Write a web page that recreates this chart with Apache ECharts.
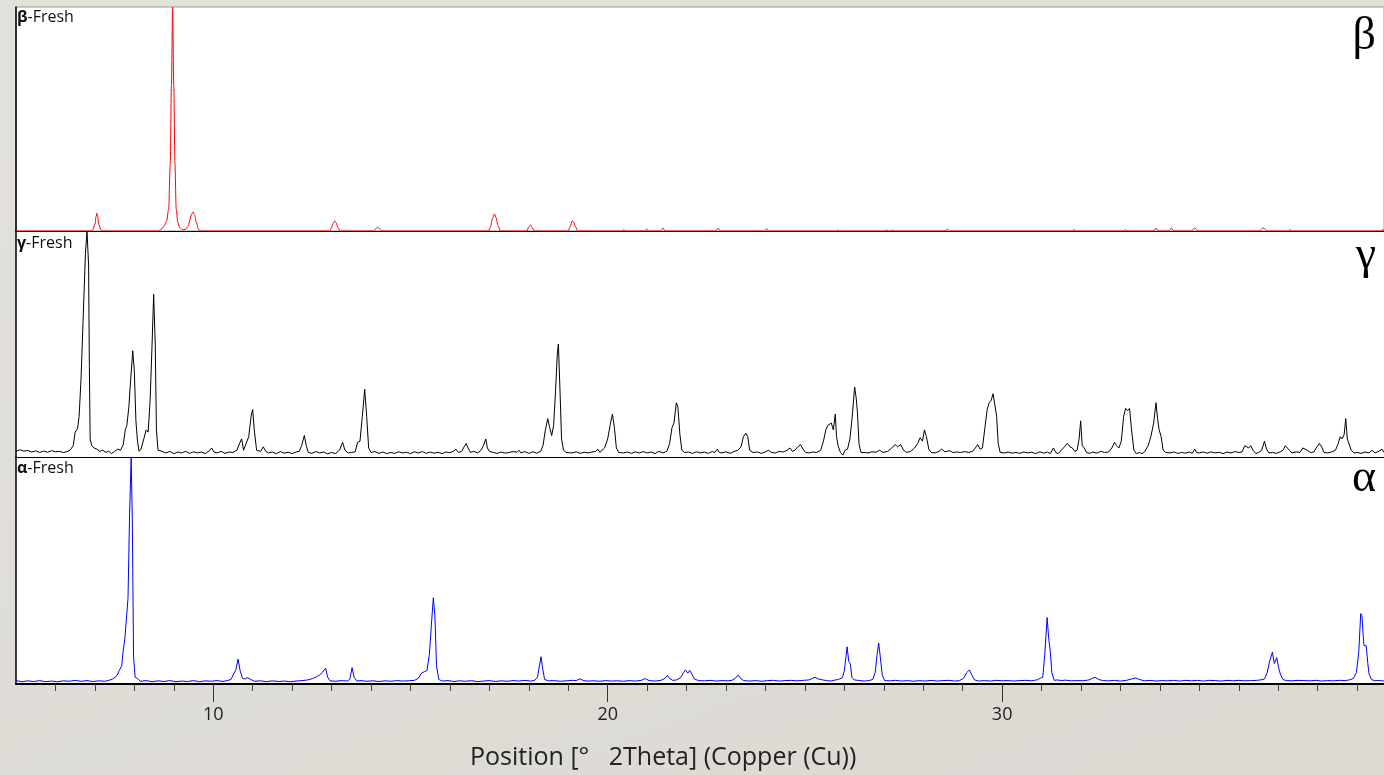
<!DOCTYPE html>
<html>
<head>
<meta charset="utf-8">
<script src="https://cdn.jsdelivr.net/npm/echarts@6/dist/echarts.min.js"></script>
<style>
html,body{margin:0;padding:0;width:1384px;height:775px;overflow:hidden;background:linear-gradient(160deg,#e3e1dc 0%,#dcd9d3 100%);}
#c{width:1384px;height:775px;}
</style>
</head>
<body>
<div id="c"></div>
<script>
// ---- axis / labels ----
const xMin = 5;
const xMax = 39.68;
const majorTicks = [10, 20, 30];
const minorTicks = [6,7,8,9,11,12,13,14,15,16,17,18,19,21,22,23,24,25,26,27,28,29,31,32,33,34,35,36,37,38,39];
const panelNames = ['β', 'γ', 'α'];
const axisTitle = 'Position [°   2Theta] (Copper (Cu))';

// ---- β-Fresh (red) : [2θ, relative intensity] ----
const betaData = [
[5.0,0],[6.9,0],[6.95,0.6],[7.0,3],[7.03,6.5],[7.05,8],[7.07,6.5],[7.1,3],[7.15,0.6],[7.2,0],
[8.6,0],[8.68,0.8],[8.75,2],[8.82,4.5],[8.87,10],[8.91,30],[8.94,65],[8.97,100],[9.0,65],[9.03,30],[9.06,10],[9.1,4],[9.15,1.5],[9.22,0.5],[9.3,0.8],[9.36,2],[9.41,5],[9.45,7.5],[9.49,8.5],[9.53,7],[9.57,4],[9.62,1],[9.67,0],
[12.95,0],[13.0,1.5],[13.04,3.5],[13.08,4.5],[13.12,3.5],[13.16,1.5],[13.22,0],
[14.08,0],[14.13,1.2],[14.17,1.8],[14.21,1.2],[14.26,0],
[16.98,0],[17.03,2],[17.08,5.5],[17.13,7.6],[17.17,6],[17.22,2.5],[17.28,0],
[17.95,0],[18.0,1.8],[18.04,2.7],[18.08,1.8],[18.13,0],
[19.0,0],[19.05,2],[19.1,4.5],[19.14,4],[19.18,2],[19.24,0],
[20.37,0],[20.41,0.7],[20.45,0],
[20.95,0],[20.99,0.9],[21.03,0],
[21.34,0],[21.4,1.3],[21.46,0],
[22.74,0],[22.8,1.3],[22.86,0],
[23.98,0],[24.03,1],[24.08,0],
[25.8,0],[25.84,0.5],[25.88,0],
[27.04,0],[27.08,0.5],[27.12,0],[27.18,0],[27.22,0.5],[27.26,0],
[28.55,0],[28.61,0.7],[28.67,0],
[31.77,0],[31.82,0.7],[31.87,0],
[33.08,0],[33.13,0.7],[33.18,0],
[33.84,0],[33.9,1.3],[33.96,0],
[34.23,0],[34.29,1.3],[34.35,0],
[34.8,0],[34.88,1.4],[34.96,0],
[36.52,0],[36.62,1.4],[36.72,0],
[37.25,0],[37.3,0.7],[37.35,0],
[39.6,0],[39.65,0.5],[39.68,0.5]
];

// ---- γ-Fresh (black) ----
const gammaData = [
[5.0,2.5],[5.1,3.2],[5.2,2.6],[5.3,2.9],[5.4,2.2],[5.5,2.7],[5.6,2.0],[5.7,2.6],[5.8,2.1],[5.9,2.8],[6.0,2.3],[6.1,2.5],[6.2,2.0],[6.3,2.4],
[6.37,3],[6.45,5],[6.5,11],[6.56,12.5],[6.6,18],[6.65,35],[6.7,60],[6.76,90],[6.8,100],[6.84,85],[6.86,40],[6.88,8],[6.92,5],[6.98,4],[7.05,3.5],[7.12,2.5],[7.2,3],[7.28,2],[7.35,2.6],[7.42,1.5],[7.5,2.5],[7.58,3.5],[7.65,3],
[7.72,5.5],[7.77,12],[7.81,14],[7.86,22],[7.91,35],[7.96,47],[8.0,38],[8.04,16],[8.08,7],[8.12,2.5],[8.17,3.5],[8.24,8],[8.3,12],[8.35,11],[8.4,25],[8.45,50],[8.49,72],[8.53,50],[8.56,12],[8.6,3],
[8.7,2.5],[8.8,1.8],[8.9,2.5],[9.0,1.5],[9.1,2.2],[9.2,1.8],[9.3,2.5],[9.4,1.6],[9.5,2.3],[9.6,1.8],[9.7,2.2],[9.8,1.5],[9.9,2.8],[9.96,4],[10.02,2.2],[10.1,1.8],[10.2,2.5],[10.3,1.6],[10.4,2.2],[10.5,2],[10.6,3],
[10.68,6.5],[10.72,8],[10.77,3],[10.82,3],[10.9,9],[10.96,18],[11.0,21],[11.04,12],[11.1,3],[11.2,2.5],[11.27,4.5],[11.33,2.5],[11.4,1.8],[11.5,2.2],[11.6,1.5],[11.7,2.4],[11.8,1.7],[11.9,2.1],[12.0,1.5],[12.1,2.2],
[12.18,2.5],[12.24,5],[12.31,9.5],[12.36,5],[12.41,2],[12.5,1.6],[12.6,2.4],[12.7,1.8],[12.8,2.2],[12.9,1.4],[13.0,2],[13.1,1.5],[13.2,3],[13.28,6.5],[13.34,3],[13.42,1.8],[13.5,2],[13.6,2.3],
[13.66,6.5],[13.72,7],[13.78,18],[13.84,30],[13.89,18],[13.94,4],[14.0,2],[14.1,2.4],[14.2,1.6],[14.3,2.2],[14.4,1.5],[14.5,2],[14.6,1.6],[14.7,2.3],[14.8,1.8],[14.9,2.1],[15.0,1.5],[15.1,2.3],[15.2,1.8],[15.3,2.4],[15.4,1.6],[15.5,2.2],[15.6,1.7],[15.7,2.1],[15.8,1.5],[15.9,2.2],[16.0,1.9],[16.1,2.6],
[16.15,3.5],[16.22,2],[16.3,2.5],[16.36,4.5],[16.41,6],[16.46,4],[16.52,2],[16.6,2.5],[16.7,1.8],[16.78,2.8],[16.85,5],[16.91,8],[16.95,4],[17.0,2.5],[17.1,2],[17.2,1.6],[17.3,2.2],[17.4,1.7],[17.5,2],[17.6,2.4],[17.7,2.1],[17.75,3],[17.8,1.8],[17.9,2.4],[18.0,1.6],[18.1,2.3],[18.2,1.7],[18.3,2.5],
[18.36,5],[18.42,12],[18.48,17],[18.53,13],[18.58,9.5],[18.63,14],[18.68,30],[18.72,45],[18.75,50],[18.79,30],[18.83,8],[18.88,3],[18.95,2],[19.0,2.5],[19.1,1.8],[19.2,2.3],[19.3,1.6],[19.4,2.1],[19.5,1.8],[19.6,2.2],[19.7,2.5],[19.75,3.5],[19.8,2],[19.85,2],
[19.92,4],[20.0,8],[20.06,14],[20.12,19],[20.17,13],[20.22,4],[20.28,2],[20.4,1.8],[20.5,2.2],[20.6,1.6],[20.7,2.3],[20.8,1.8],[20.9,2.4],[21.0,1.8],[21.1,2.2],[21.2,1.5],[21.3,2.5],[21.4,1.8],[21.5,2.5],
[21.57,6],[21.63,13],[21.68,15],[21.74,24],[21.78,22],[21.83,10],[21.88,3],[21.95,2],[22.05,2.2],[22.15,1.6],[22.25,2.3],[22.35,1.8],[22.45,2.2],[22.55,1.6],[22.65,2.4],[22.72,2],[22.78,3.5],[22.83,2],[22.9,1.8],[23.0,2.3],[23.1,1.6],[23.2,2.4],[23.3,3],
[23.38,4.5],[23.44,9],[23.5,10.5],[23.55,9],[23.6,3],[23.68,2],[23.8,2.2],[23.9,1.6],[24.0,2.3],[24.08,3],[24.15,2],[24.25,1.8],[24.35,2.5],[24.45,2.2],[24.55,3],[24.62,4],[24.68,2.5],[24.75,3],[24.82,4.5],[24.89,5.5],[24.95,3.5],[25.02,2],[25.1,1.8],[25.2,2.2],[25.3,2],[25.4,3],
[25.47,7],[25.53,12],[25.58,14],[25.63,13.5],[25.67,15],[25.72,12],[25.77,19],[25.8,9],[25.84,5],[25.9,2],[25.96,0.8],[26.02,3],[26.08,3.5],[26.14,8],[26.2,18],[26.26,31],[26.3,26],[26.33,20],[26.37,6],[26.42,2],[26.5,2],[26.6,1.8],[26.7,2.3],[26.8,2.1],[26.89,3],[26.98,2],
[27.1,2.5],[27.2,4],[27.29,5.5],[27.35,4.5],[27.43,5.5],[27.5,3],[27.58,2],[27.68,2.5],[27.78,4],[27.86,6],[27.92,8.5],[27.98,7],[28.03,12],[28.08,9],[28.14,3.5],[28.2,2],[28.3,1.8],[28.4,2.5],[28.46,3.5],[28.55,2.3],[28.6,1.5],[28.67,2.8],[28.75,2],[28.85,2.2],[28.95,2],[29.05,2.4],[29.15,2],[29.25,2.5],
[29.32,4],[29.38,5.5],[29.44,3.5],[29.5,4],[29.57,14],[29.62,21],[29.67,24],[29.72,25],[29.77,28],[29.82,28],[29.86,18],[29.9,6],[29.95,2],[30.05,1.8],[30.15,2.2],[30.25,1.7],[30.35,2],[30.45,1.6],[30.55,2.2],[30.65,1.8],[30.75,2.1],[30.85,1.5],[30.95,2.3],[31.05,1.7],[31.15,2.2],[31.22,1.5],
[31.3,4],[31.36,2],[31.42,1.5],[31.5,3],[31.58,4.5],[31.65,6],[31.72,4.5],[31.78,4],[31.84,2.5],[31.9,3],[31.95,8],[31.99,16],[32.03,5],[32.08,4],[32.14,2],[32.22,1.6],[32.3,2.2],[32.4,1.7],[32.5,2.5],[32.6,2],[32.7,2.2],
[32.78,4],[32.85,6.5],[32.9,5],[32.96,4],[33.02,7],[33.08,18],[33.13,21.5],[33.18,20.5],[33.23,21.5],[33.28,12],[33.34,3],[33.4,1.5],[33.48,2],[33.55,1.5],[33.62,2.5],[33.7,5],[33.77,9],[33.84,15],[33.9,24],[33.94,17],[33.98,12],[34.03,9],[34.08,3],[34.15,2],
[34.25,1.8],[34.35,2.2],[34.45,1.6],[34.55,2],[34.65,1.7],[34.75,2.2],[34.82,1.6],[34.88,3.5],[34.93,2],[35.0,1.8],[35.1,2.2],[35.2,1.7],[35.3,2.3],[35.4,1.8],[35.5,2.1],[35.6,1.5],[35.7,2.2],[35.8,1.8],[35.9,2.4],[36.0,2],[36.08,2.2],
[36.15,5],[36.2,5.5],[36.25,4],[36.3,5],[36.36,3],[36.43,1.5],[36.5,2],[36.58,3],[36.65,7],[36.7,3.5],[36.76,1.8],[36.85,2],[36.95,1.6],[37.05,2.3],[37.12,3],[37.18,5],[37.23,5.5],[37.28,3],[37.35,1.8],[37.45,2.3],[37.55,2],[37.62,4],[37.68,3.5],[37.75,2.8],[37.82,2],[37.9,2.2],
[37.98,4.5],[38.04,6],[38.1,4.5],[38.16,2],[38.25,1.8],[38.35,2.2],[38.45,3],[38.52,6],[38.57,9],[38.62,8],[38.67,10],[38.71,17],[38.75,8],[38.8,7.5],[38.85,3],[38.92,1.8],[39.0,2],[39.1,1.6],[39.2,2.2],[39.3,1.8],[39.38,3],[39.45,1.8],[39.55,2.5],[39.63,3.5],[39.68,2]
];

// ---- α-Fresh (blue) ----
const alphaData = [
[5.0,1.5],[5.15,1.0],[5.3,1.4],[5.45,1.1],[5.6,1.5],[5.75,1.0],[5.9,1.3],[6.05,1.0],[6.2,1.4],[6.35,1.2],[6.5,1.6],[6.65,1.2],[6.8,1.5],[6.95,1.1],[7.1,1.4],[7.25,1.2],[7.35,1.6],[7.45,2.2],[7.55,3.5],[7.62,6],[7.68,8],[7.72,15],[7.76,20],[7.8,20.5],[7.84,38],[7.88,75],[7.92,100],[7.95,70],[7.98,12],[8.02,3],[8.08,2.5],[8.15,1.2],
[8.3,1.5],[8.45,1.0],[8.6,1.4],[8.75,1.1],[8.9,1.5],[9.05,1.0],[9.2,1.3],[9.35,1.1],[9.5,1.5],[9.65,1.0],[9.8,1.4],[9.95,1.2],[10.1,1.5],[10.25,1.1],[10.35,1.5],[10.45,2.0],[10.52,4.5],[10.57,6],[10.63,11],[10.68,6],[10.74,2.5],[10.8,2.2],[10.87,2.8],[10.95,2],[11.05,1.2],
[11.2,1.4],[11.35,1.0],[11.5,1.4],[11.65,1.1],[11.8,1.3],[11.95,1.0],[12.1,1.3],[12.25,1.5],[12.4,1.8],[12.52,2.4],[12.62,3.2],[12.7,4],[12.76,5],[12.8,4.6],[12.85,7],[12.9,3],[12.96,1.4],[13.1,1.2],[13.25,1.5],[13.4,1.3],[13.46,2],[13.52,7.2],[13.57,3],[13.64,1.3],
[13.75,1.5],[13.9,1.2],[14.05,1.4],[14.2,1.1],[14.35,1.4],[14.5,1.2],[14.65,1.5],[14.8,1.3],[14.95,1.4],[15.1,1.6],[15.2,2.5],[15.28,4.8],[15.36,5.5],[15.42,6],[15.48,13],[15.53,26],[15.58,38],[15.62,30],[15.66,8],[15.72,2],[15.8,1.3],
[15.95,1.5],[16.1,1.1],[16.25,1.4],[16.4,1.2],[16.55,1.5],[16.7,1.0],[16.85,1.3],[17.0,1.5],[17.15,1.1],[17.3,1.4],[17.45,1.2],[17.6,1.5],[17.75,1.3],[17.9,1.6],[18.05,1.3],[18.15,1.6],[18.22,3],[18.27,8],[18.31,12],[18.35,7],[18.4,2],[18.5,1.4],
[18.65,1.5],[18.8,1.2],[18.95,1.4],[19.1,1.6],[19.2,1.5],[19.3,2.3],[19.38,1.5],[19.5,1.3],[19.65,1.4],[19.8,1.2],[19.95,1.5],[20.1,1.3],[20.25,1.4],[20.4,1.2],[20.55,1.5],[20.7,1.3],[20.85,1.6],[20.95,2.4],[21.05,1.5],[21.2,1.3],[21.35,1.6],[21.45,2.5],[21.51,3.8],[21.57,2.4],[21.65,1.6],
[21.75,1.8],[21.85,2.8],[21.92,5],[21.97,6.2],[22.03,4.8],[22.08,6],[22.13,4.5],[22.2,2.2],[22.3,1.5],[22.45,1.4],[22.6,1.6],[22.75,1.3],[22.9,1.5],[23.05,1.4],[23.15,1.6],[23.24,2.6],[23.31,4],[23.37,2.4],[23.45,1.5],[23.6,1.3],[23.75,1.5],[23.9,1.2],
[24.05,1.5],[24.2,1.6],[24.35,1.3],[24.5,1.5],[24.65,1.6],[24.8,1.4],[24.95,1.6],[25.1,1.8],[25.2,2.5],[25.26,3],[25.34,2.2],[25.45,1.8],[25.55,1.5],[25.65,1.3],[25.75,1.7],[25.85,2.0],[25.95,2.8],[26.0,6],[26.04,12],[26.07,16.4],[26.11,10],[26.15,9],[26.19,3],[26.25,1.8],
[26.35,1.6],[26.5,1.3],[26.62,1.5],[26.72,2],[26.78,5],[26.83,13],[26.87,18],[26.91,12],[26.96,4],[27.02,1.5],[27.15,1.4],[27.3,1.6],[27.45,1.3],[27.6,1.5],[27.75,1.2],[27.9,1.5],[28.05,1.3],[28.2,1.6],[28.35,1.3],[28.5,1.5],[28.65,1.6],[28.8,1.3],[28.92,1.5],
[29.02,2.5],[29.1,5],[29.17,6.2],[29.23,4],[29.3,1.8],[29.4,1.3],[29.55,1.5],[29.7,1.3],[29.85,1.6],[30.0,1.4],[30.15,1.5],[30.3,1.3],[30.45,1.5],[30.6,1.6],[30.75,1.4],[30.9,1.9],[30.97,2.6],[31.03,3],[31.08,13],[31.14,29.3],[31.18,20],[31.22,14.3],[31.26,5],[31.32,1.6],
[31.4,1.8],[31.5,1.5],[31.6,1.7],[31.75,1.4],[31.9,1.5],[32.05,1.4],[32.2,1.8],[32.3,2.6],[32.36,2.9],[32.45,2],[32.55,1.5],[32.7,1.4],[32.85,1.6],[33.0,1.3],[33.15,1.6],[33.28,2.2],[33.38,2.6],[33.48,2],[33.6,1.4],[33.75,1.6],[33.9,1.3],
[34.05,1.5],[34.2,1.4],[34.35,1.6],[34.5,1.3],[34.65,1.6],[34.8,1.4],[34.95,1.6],[35.1,1.3],[35.25,1.6],[35.4,1.5],[35.55,1.3],[35.7,1.6],[35.85,1.4],[36.0,1.6],[36.15,1.4],[36.3,1.5],[36.45,1.6],[36.55,1.8],[36.65,2.2],
[36.72,5],[36.78,10],[36.85,14],[36.9,9],[36.96,11.6],[37.01,7],[37.06,4],[37.12,2],[37.2,1.5],[37.35,1.4],[37.5,1.6],[37.65,1.5],[37.8,1.4],[37.95,1.6],[38.1,1.3],[38.25,1.5],[38.4,1.4],[38.55,1.6],[38.7,1.5],[38.8,1.8],[38.9,2.4],
[38.98,5],[39.04,14],[39.09,31],[39.12,30],[39.17,17],[39.23,16.8],[39.27,9],[39.3,4.5],[39.36,2],[39.45,1.4],[39.55,1.6],[39.65,1.3],[39.68,1.5]
];

const FONT = "'Open Sans','Noto Sans',sans-serif";
const chart = echarts.init(document.getElementById('c'), null, {renderer:'canvas'});

const grids = [
  {left:16, right:0, top:7, height:224},
  {left:16, right:0, top:231, height:226},
  {left:16, right:0, top:457, height:227}
];
grids.forEach(g => { g.show = true; g.backgroundColor = '#ffffff'; g.borderWidth = 0; });
grids[0].borderWidth = 1; grids[0].borderColor = '#9a9a9a';

function hiddenX(i){
  return {type:'value', gridIndex:i, min:xMin, max:xMax, position:'bottom',
    axisLine:{show:true, onZero:false, lineStyle:{color:'#000', width:1}},
    axisTick:{show:false}, axisLabel:{show:false}, splitLine:{show:false}};
}
function yAx(i){
  return {type:'value', gridIndex:i, min:0, max:100,
    axisLine:{show:true, lineStyle:{color:'#000', width:1.5}},
    axisTick:{show:false}, axisLabel:{show:false}, splitLine:{show:false}};
}

const xAxes = [hiddenX(0), hiddenX(1),
  {type:'value', gridIndex:2, min:xMin, max:xMax, position:'bottom',
   axisLine:{show:true, onZero:false, lineStyle:{color:'#000', width:2}},
   axisTick:{show:true, inside:false, customValues:majorTicks, length:18, lineStyle:{color:'#333', width:1}},
   axisLabel:{show:true, customValues:majorTicks, fontSize:18, color:'#222', margin:22, fontFamily:FONT},
   splitLine:{show:false}},
  {type:'value', gridIndex:2, min:xMin, max:xMax, position:'bottom', offset:0,
   axisLine:{show:false, onZero:false},
   axisTick:{show:true, inside:false, customValues:minorTicks, length:7, lineStyle:{color:'#444', width:1}},
   axisLabel:{show:false}, splitLine:{show:false}}
];

function lineSeries(data, xi, yi, color, smooth){
  return {type:'line', data:data, xAxisIndex:xi, yAxisIndex:yi, showSymbol:false, symbol:'none',
    smooth: smooth ? 0.3 : false, smoothMonotone: smooth ? 'x' : undefined,
    lineStyle:{color:color, width:1}, silent:true, animation:false, z:3};
}

const labelTops = [9, 235, 460];
const greekTops = [14, 233, 456];
const titles = [];
panelNames.forEach((n, i) => {
  titles.push({text:'{b|' + n + '}-Fresh', left:17, top:labelTops[i], padding:0,
    textStyle:{fontFamily:FONT, fontSize:16, fontWeight:'normal', color:'#111',
      rich:{b:{fontFamily:FONT, fontSize:16, fontWeight:'bold', color:'#111'}}}});
  titles.push({text:n, right:8, top:greekTops[i], padding:0,
    textStyle:{fontFamily:"'Liberation Serif','DejaVu Serif',serif", fontSize:46, fontWeight:'normal', color:'#000'}});
});
titles.push({text:axisTitle, left:470, top:745, padding:0,
  textStyle:{fontFamily:FONT, fontSize:25, fontWeight:'normal', color:'#222'}});

chart.setOption({
  animation:false,
  backgroundColor:'transparent',
  title:titles,
  grid:grids,
  xAxis:xAxes,
  yAxis:[yAx(0), yAx(1), yAx(2)],
  series:[
    lineSeries(betaData, 0, 0, '#ff0000', true),
    lineSeries(gammaData, 1, 1, '#000000', false),
    lineSeries(alphaData, 2, 2, '#0000ff', false)
  ]
});
</script>
</body>
</html>
